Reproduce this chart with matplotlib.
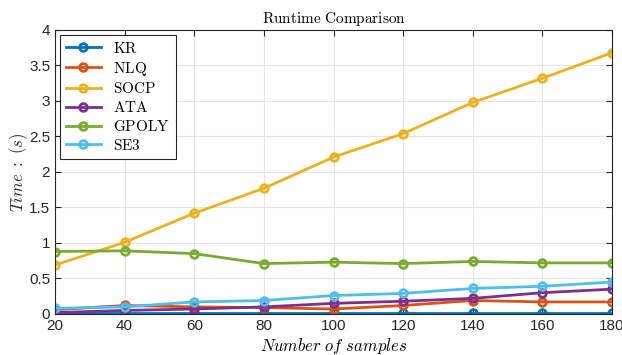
import matplotlib
matplotlib.use("Agg")
import matplotlib.pyplot as plt

plt.rcParams["mathtext.fontset"] = "cm"
plt.rcParams["font.family"] = ["Liberation Sans", "DejaVu Sans"]

samples = [20, 40, 60, 80, 100, 120, 140, 160, 180]
kr = [0.01, 0.01, 0.01, 0.01, 0.01, 0.01, 0.01, 0.01, 0.01]
nlq = [0.06, 0.12, 0.10, 0.09, 0.07, 0.12, 0.19, 0.17, 0.17]
socp = [0.69, 1.01, 1.42, 1.77, 2.21, 2.54, 2.98, 3.32, 3.68]
ata = [0.02, 0.05, 0.07, 0.10, 0.15, 0.18, 0.22, 0.30, 0.35]
gpoly = [0.88, 0.89, 0.85, 0.71, 0.73, 0.71, 0.74, 0.72, 0.72]
se3 = [0.08, 0.10, 0.17, 0.19, 0.26, 0.29, 0.36, 0.39, 0.45]

series = [("KR", kr, "#0072BD"), ("NLQ", nlq, "#D95319"),
          ("SOCP", socp, "#EDB120"), ("ATA", ata, "#7E2F8E"),
          ("GPOLY", gpoly, "#77AC30"), ("SE3", se3, "#4DBEEE")]

fig = plt.figure(figsize=(6.22, 3.55), dpi=100)
ax = fig.add_axes([0.0884, 0.1155, 0.8956, 0.8])

for name, vals, col in series:
    ax.plot(samples, vals, "-o", color=col, lw=2, ms=5.5, mfc="none", mew=2,
            label=r"$\mathrm{%s}$" % name)

ax.set_xlim(20, 180)
ax.set_ylim(0, 4)
ax.set_xticks(samples)
ax.set_yticks([0, 0.5, 1, 1.5, 2, 2.5, 3, 3.5, 4])
ax.set_yticklabels(["0", "0.5", "1", "1.5", "2", "2.5", "3", "3.5", "4"])
ax.grid(True, color="#e4e4e4", lw=0.8)
ax.set_axisbelow(True)
ax.tick_params(direction="in", top=True, right=True, labelsize=11, colors="#262626", length=4)
for s in ax.spines.values():
    s.set_color("#262626")
    s.set_linewidth(0.8)

ax.set_title(r"$\mathrm{Runtime\ Comparison}$", fontsize=11, pad=5)
ax.set_xlabel(r"$Number\ of\ samples$", fontsize=12, labelpad=2)
ax.set_ylabel(r"$Time\ :\ (s)$", fontsize=12, labelpad=-1, color="#262626")

leg = ax.legend(loc="upper left", fontsize=11, fancybox=False, edgecolor="#262626",
                framealpha=1, handlelength=2.3, borderaxespad=0.3, labelspacing=0.25)
leg.get_frame().set_linewidth(0.8)

fig.savefig("out.png", dpi=100)
